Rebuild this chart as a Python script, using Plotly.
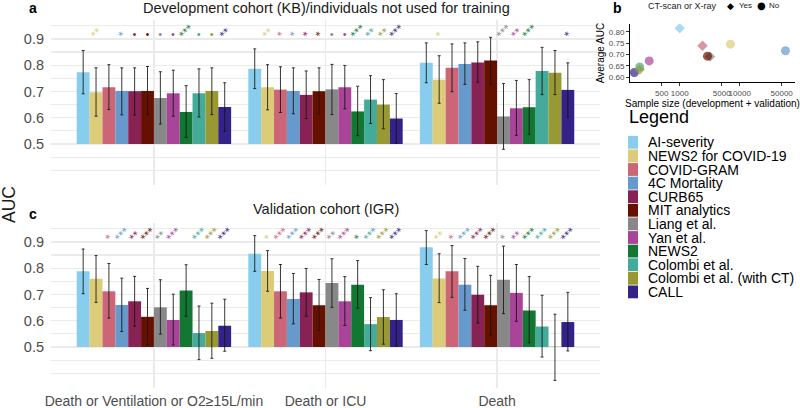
import plotly.graph_objects as go

W, H = 800, 408

models = ["AI-severity", "NEWS2 for COVID-19", "COVID-GRAM", "4C Mortality", "CURB65",
          "MIT analytics", "Liang et al.", "Yan et al.", "NEWS2", "Colombi et al.",
          "Colombi et al. (with CT)", "CALL"]
colors = ["#88CCEE", "#DDCC77", "#CC6677", "#6699CC", "#882255", "#661100",
          "#888888", "#AA4499", "#117733", "#44AA99", "#999933", "#332288"]
outcomes = ["Death or Ventilation or O2≥15L/min", "Death or ICU", "Death"]

# Panel a: development cohort (KB) - one list per outcome, values per model
dev_auc = [
    [0.773, 0.697, 0.716, 0.702, 0.701, 0.702, 0.675, 0.693, 0.622, 0.693, 0.702, 0.641],
    [0.786, 0.716, 0.707, 0.702, 0.687, 0.701, 0.708, 0.716, 0.624, 0.669, 0.650, 0.597],
    [0.809, 0.745, 0.790, 0.805, 0.810, 0.818, 0.605, 0.636, 0.640, 0.778, 0.771, 0.706],
]
dev_lo = [
    [0.691, 0.606, 0.631, 0.611, 0.610, 0.612, 0.576, 0.606, 0.525, 0.603, 0.612, 0.548],
    [0.711, 0.630, 0.620, 0.615, 0.597, 0.614, 0.612, 0.634, 0.532, 0.578, 0.558, 0.503],
    [0.733, 0.655, 0.699, 0.727, 0.735, 0.727, 0.480, 0.533, 0.537, 0.688, 0.688, 0.603],
]
dev_hi = [
    [0.856, 0.790, 0.802, 0.790, 0.790, 0.795, 0.775, 0.781, 0.722, 0.786, 0.790, 0.733],
    [0.862, 0.802, 0.794, 0.790, 0.778, 0.790, 0.803, 0.799, 0.720, 0.760, 0.745, 0.692],
    [0.885, 0.836, 0.881, 0.885, 0.889, 0.906, 0.730, 0.742, 0.745, 0.868, 0.856, 0.809],
]
dev_sig = [
    ["", "**", "", "*", "•", "•", "•", "•", "***", "•", "•", "**"],
    ["", "**", "*", "*", "*", "*", "•", "•", "***", "**", "**", "***"],
    ["", "*", "", "", "", "", "***", "**", "***", "", "", "*"],
]

# Panel c: validation cohort (IGR)
val_auc = [
    [0.788, 0.760, 0.712, 0.660, 0.674, 0.615, 0.651, 0.603, 0.715, 0.553, 0.561, 0.581],
    [0.855, 0.789, 0.712, 0.683, 0.708, 0.659, 0.744, 0.674, 0.737, 0.587, 0.614, 0.603],
    [0.880, 0.761, 0.788, 0.737, 0.699, 0.659, 0.756, 0.706, 0.639, 0.578, 0.501, 0.595],
]
val_lo = [
    [0.703, 0.670, 0.610, 0.559, 0.579, 0.508, 0.549, 0.508, 0.617, 0.452, 0.457, 0.484],
    [0.788, 0.712, 0.610, 0.588, 0.617, 0.564, 0.651, 0.582, 0.648, 0.486, 0.511, 0.504],
    [0.814, 0.669, 0.689, 0.640, 0.591, 0.545, 0.627, 0.598, 0.516, 0.462, 0.373, 0.485],
]
val_hi = [
    [0.873, 0.848, 0.818, 0.762, 0.769, 0.723, 0.756, 0.701, 0.813, 0.656, 0.667, 0.682],
    [0.924, 0.867, 0.814, 0.780, 0.799, 0.757, 0.836, 0.768, 0.829, 0.688, 0.718, 0.703],
    [0.943, 0.855, 0.886, 0.837, 0.807, 0.773, 0.884, 0.814, 0.768, 0.697, 0.625, 0.708],
]
val_sig = [
    ["", "", "*", "***", "**", "***", "**", "***", "", "***", "***", "***"],
    ["", "*", "***", "***", "***", "***", "**", "***", "*", "***", "***", "***"],
    ["", "**", "*", "***", "***", "***", "*", "**", "***", "***", "***", "***"],
]

# Panel b: sample size vs average AUC (drawing order)
b_models = ["CALL", "Colombi et al.", "Colombi et al. (with CT)", "Yan et al.", "Liang et al.",
            "MIT analytics", "4C Mortality", "COVID-GRAM", "NEWS2 for COVID-19", "AI-severity"]
b_size = [175, 215, 215, 310, 3200, 2900, 57800, 2400, 7000, 1000]
b_auc = [0.620, 0.644, 0.633, 0.671, 0.690, 0.692, 0.716, 0.738, 0.745, 0.815]
b_imaging = ["No", "No", "Yes", "No", "Yes", "No", "No", "Yes", "No", "Yes"]

y_ticks = [0.4, 0.45, 0.5, 0.55, 0.6, 0.65, 0.7, 0.75, 0.8, 0.85, 0.9, 0.95]
y_ticktext = ["", "", "0.5", "", "0.6", "", "0.7", "", "0.8", "", "0.9", ""]
b_xticks = [500, 1000, 5000, 10000, 50000]
b_yticks = [0.60, 0.65, 0.70, 0.75, 0.80]

BAR_BASE = 0.5
SIG_BASE = 0.882
FONT = "Liberation Sans, Arial, sans-serif"
GRID = "#EBEBEB"
TXT = "#4D4D4D"

color_of = dict(zip(models, colors))

fig = go.Figure()

for panel, (auc, lo, hi, sig) in enumerate([(dev_auc, dev_lo, dev_hi, dev_sig),
                                             (val_auc, val_lo, val_hi, val_sig)]):
    xa = "x" if panel == 0 else "x2"
    ya = "y" if panel == 0 else "y2"
    for i, m in enumerate(models):
        vals = [auc[g][i] for g in range(3)]
        los = [lo[g][i] for g in range(3)]
        his = [hi[g][i] for g in range(3)]
        fig.add_trace(go.Bar(
            x=outcomes, y=[v - BAR_BASE for v in vals], base=BAR_BASE,
            marker=dict(color=colors[i], line=dict(width=0)),
            offsetgroup=m, name=m, showlegend=False, xaxis=xa, yaxis=ya,
            error_y=dict(type="data", array=[h - v for h, v in zip(his, vals)],
                         arrayminus=[v - l for v, l in zip(vals, los)],
                         color="rgba(20,20,20,0.85)", thickness=1, width=1.5),
            hoverinfo="skip",
        ))
        fig.add_trace(go.Bar(
            x=outcomes, y=[0.0001] * 3, base=SIG_BASE,
            marker=dict(color="rgba(0,0,0,0)", line=dict(width=0)),
            offsetgroup=m, showlegend=False, xaxis=xa, yaxis=ya,
            text=[sig[g][i] for g in range(3)], textposition="outside",
            textangle=-45, constraintext="none", cliponaxis=False,
            textfont=dict(color=colors[i], size=10, family="DejaVu Sans, sans-serif"),
            hoverinfo="skip",
        ))

fig.add_trace(go.Scatter(
    x=b_size, y=b_auc, mode="markers", xaxis="x3", yaxis="y3", showlegend=False,
    marker=dict(color=[color_of[m] for m in b_models],
                symbol=["diamond" if s == "Yes" else "circle" for s in b_imaging],
                size=[8 if s == "Yes" else 9 for s in b_imaging], line=dict(width=0)),
    hoverinfo="skip",
))

def px(x):
    return x / W

def py(y):
    return 1 - y / H

cat_axis = dict(type="category", categoryorder="array", categoryarray=outcomes,
                range=[-0.6, 2.6],
                showgrid=True, gridcolor=GRID, gridwidth=1.2, zeroline=False,
                ticks="", showline=False, domain=[px(51), px(600)], automargin=False,
                tickfont=dict(family=FONT, size=14, color=TXT))
val_axis = dict(range=[0.344, 0.972], tickvals=y_ticks, ticktext=y_ticktext,
                showgrid=True, gridcolor=GRID, gridwidth=1.2, zeroline=False,
                ticks="", showline=False, ticklabelstandoff=6, automargin=False,
                tickfont=dict(family=FONT, size=14.5, color=TXT))

fig.update_layout(
    template="none",
    width=W, height=H, margin=dict(l=0, r=0, t=0, b=0, autoexpand=False),
    paper_bgcolor="white", plot_bgcolor="white",
    barmode="group", bargap=0.1, bargroupgap=0,
    font=dict(family=FONT),
    showlegend=False,
    xaxis=dict(cat_axis, anchor="y", showticklabels=False),
    yaxis=dict(val_axis, anchor="x", domain=[py(185), py(20)]),
    xaxis2=dict(cat_axis, anchor="y2", showticklabels=True, ticklabelstandoff=3),
    yaxis2=dict(val_axis, anchor="x2", domain=[py(388), py(223)]),
    xaxis3=dict(type="log", range=[2.171, 4.921], domain=[px(630), px(795)], anchor="y3",
                tickvals=b_xticks, ticktext=[str(v) for v in b_xticks], tickangle=0,
                showline=True, linecolor="black", linewidth=1, ticks="outside", ticklen=3,
                tickcolor="#333333", showgrid=False, zeroline=False, automargin=False,
                tickfont=dict(family=FONT, size=8, color=TXT),
                title=dict(text="Sample size (development + validation)", standoff=2,
                           font=dict(family=FONT, size=10, color="black"))),
    yaxis3=dict(range=[0.578, 0.834], domain=[py(82), py(24)], anchor="x3",
                tickvals=b_yticks, ticktext=["%.2f" % v for v in b_yticks],
                showline=True, linecolor="black", linewidth=1, ticks="outside", ticklen=3,
                tickcolor="#333333", showgrid=False, zeroline=False, automargin=False,
                tickfont=dict(family=FONT, size=8, color=TXT),
                title=dict(text="Average AUC", standoff=2,
                           font=dict(family=FONT, size=10, color="black"))),
)

ann = []
def add_text(text, x, y, size, color="black", xanchor="center", yanchor="middle",
             angle=0, bold=False, family=FONT):
    ann.append(dict(text=("<b>%s</b>" % text) if bold else text, x=px(x), y=py(y),
                    xref="paper", yref="paper", showarrow=False, xanchor=xanchor,
                    yanchor=yanchor, textangle=angle,
                    font=dict(family=family, size=size, color=color)))

add_text("a", 33, 8, 14, bold=True)
add_text("Development cohort (KB)/individuals not used for training", 326, 8, 14.5, color="#1A1A1A")
add_text("c", 33, 214, 14, bold=True)
add_text("Validation cohort (IGR)", 326, 209, 14.5, color="#1A1A1A")
add_text("AUC", 9, 205, 17.5, color="#1A1A1A", angle=-90)
add_text("b", 617, 8, 14, bold=True)
add_text("CT-scan or X-ray", 682, 6, 9, color="#1A1A1A")
add_text("◆", 730, 6, 9, family="DejaVu Sans, sans-serif")
add_text("Yes", 737, 6, 8, xanchor="left", color="#1A1A1A")
add_text("●", 761, 6, 10, family="DejaVu Sans, sans-serif")
add_text("No", 767, 6, 8, xanchor="left", color="#1A1A1A")
add_text("Legend", 627, 117, 18, xanchor="left")

shapes = []
for k, (m, c) in enumerate(zip(models, colors)):
    cy = 142.3 + 13.6 * k
    shapes.append(dict(type="rect", xref="paper", yref="paper",
                       x0=px(628), x1=px(638), y0=py(cy + 6.4), y1=py(cy - 6.4),
                       fillcolor=c, line=dict(width=0)))
    add_text(m, 646, cy, 14, xanchor="left")

fig.update_layout(annotations=ann, shapes=shapes)

fig.write_html("out.html", config={"displayModeBar": False, "staticPlot": True},
               post_script="document.body.style.margin='0';document.body.style.padding='0';")
